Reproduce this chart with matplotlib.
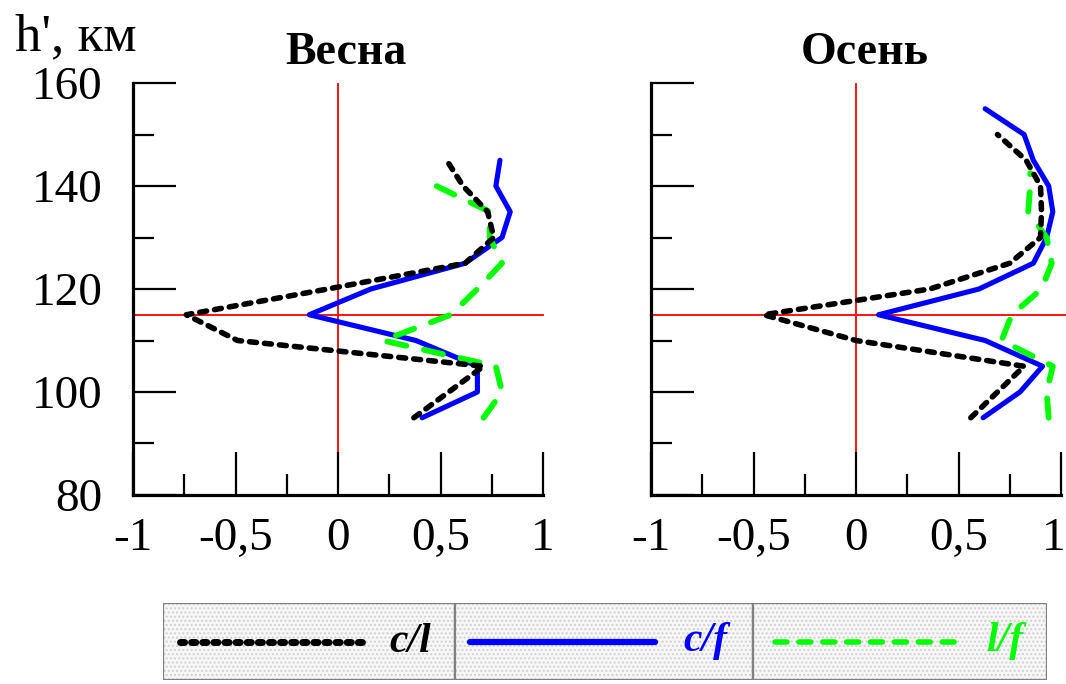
import matplotlib.pyplot as plt
import matplotlib.transforms as mtransforms
import numpy as np
from matplotlib.patches import Rectangle
from matplotlib.lines import Line2D

plt.rcParams['font.family'] = ['Liberation Serif', 'DejaVu Serif']
plt.rcParams['lines.scale_dashes'] = False

# Весна (spring)
h_spring = [95, 100, 105, 110, 115, 120, 125, 130, 135, 140, 145]
cl_spring = [0.37, 0.54, 0.71, -0.49, -0.74, -0.05, 0.62, 0.76, 0.73, 0.61, 0.53]
cf_spring = [0.41, 0.68, 0.68, 0.38, -0.14, 0.16, 0.62, 0.80, 0.84, 0.77, 0.79]
h_spring_lf = [95, 100, 105, 110, 115, 120, 125, 130, 135, 140]
lf_spring = [0.71, 0.80, 0.77, 0.22, 0.55, 0.68, 0.80, 0.74, 0.74, 0.48]

# Осень (autumn)
h_autumn_cl = [95, 100, 105, 110, 115, 120, 125, 130, 135, 140, 145, 150]
cl_autumn = [0.56, 0.69, 0.82, 0.0, -0.45, 0.36, 0.75, 0.90, 0.905, 0.90, 0.83, 0.69]
h_autumn_cf = [95, 100, 105, 110, 115, 120, 125, 130, 135, 140, 145, 150, 155]
cf_autumn = [0.62, 0.80, 0.91, 0.63, 0.11, 0.60, 0.865, 0.93, 0.96, 0.94, 0.865, 0.82, 0.63]
h_autumn_lf = [95, 100, 105, 110, 115, 120, 125, 130, 135, 140, 142.5]
lf_autumn = [0.94, 0.93, 0.96, 0.71, 0.76, 0.905, 0.955, 0.93, 0.84, 0.85, 0.85]

titles = ['Весна', 'Осень']
legend_labels = ['c/l', 'c/f', 'l/f']
colors = ['black', '#0000ff', '#00ff00']

fig = plt.figure(figsize=(10.66, 6.84), dpi=100)
ax1 = fig.add_axes([133/1066, 1 - 495/684, 410/1066, 412/684])
ax2 = fig.add_axes([651/1066, 1 - 495/684, 410/1066, 412/684])

black_dash = (5.0, 5.8)
green_dash = (14.0, 13.0)

panels = [
    (ax1, (h_spring, cl_spring), (h_spring, cf_spring), (h_spring_lf, lf_spring)),
    (ax2, (h_autumn_cl, cl_autumn), (h_autumn_cf, cf_autumn), (h_autumn_lf, lf_autumn)),
]

for i, (ax, cl, cf, lf) in enumerate(panels):
    ax.axvline(0, color='red', lw=1.3, zorder=1)
    ax.axhline(115, color='red', lw=1.3, zorder=1, clip_on=False, xmax=1.0 if i == 0 else 1.02)
    ax.plot(cl[1], cl[0], color='black', lw=4.0, dashes=black_dash, dash_capstyle='round', zorder=3)
    ax.plot(cf[1], cf[0], color='#0000ff', lw=3.7, solid_capstyle='round', zorder=2)
    ax.plot(lf[1], lf[0], color='#00ff00', lw=4.2, dashes=green_dash, dash_capstyle='round', zorder=2)

    ax.set_xlim(-1, 1)
    ax.set_ylim(80, 160)
    ax.set_xticks([-1, -0.5, 0, 0.5, 1])
    ax.set_xticklabels(['-1', '-0,5', '0', '0,5', '1'])
    ax.set_xticks(np.arange(-1, 1.01, 0.25), minor=True)
    ax.set_yticks([80, 100, 120, 140, 160])
    ax.set_yticks(np.arange(80, 161, 10), minor=True)
    for s in ['top', 'right']:
        ax.spines[s].set_visible(False)
    for s in ['left', 'bottom']:
        ax.spines[s].set_linewidth(2.3)
    ax.tick_params(which='major', direction='in', length=31, width=1.6, labelsize=34, pad=22)
    ax.tick_params(which='minor', direction='in', length=15, width=1.6)
    ax.tick_params(axis='x', pad=16)
    if i == 1:
        ax.set_yticklabels([])
    ax.set_title(titles[i], fontsize=33, fontweight='bold', pad=14, x=0.52)

# keep the last "1" of the right panel inside the picture
last = ax2.get_xticklabels()[-1]
last.set_horizontalalignment('right')
last.set_transform(last.get_transform() + mtransforms.ScaledTranslation(4/100, 0, fig.dpi_scale_trans))

fig.text(15/1066, 1 - 50/684, "h', км", fontsize=38)

# legend panel
lax = fig.add_axes([163/1066, 1 - 680/684, 884/1066, 77/684])
lax.set_xlim(163, 1047)
lax.set_ylim(0, 1)
lax.axis('off')
cells = [(163, 455), (455, 753), (753, 1047)]
line_spans = [(180, 368), (470, 655), (775, 960)]
text_x = [410, 705, 1005]
for j, (x0, x1) in enumerate(cells):
    lax.add_patch(Rectangle((x0, 0), x1 - x0, 1, facecolor='#f7f7f7', edgecolor='#d0d0d0',
                            hatch='....', lw=0))
    lax.add_patch(Rectangle((x0, 0), x1 - x0, 1, facecolor='none', edgecolor='#808080', lw=1.6))
    ls = line_spans[j]
    if j == 0:
        lax.add_line(Line2D(ls, [0.5, 0.5], color='black', lw=5.0, dashes=(3.0, 5.0), dash_capstyle='round'))
    elif j == 1:
        lax.add_line(Line2D(ls, [0.5, 0.5], color='#0000ff', lw=4.5, solid_capstyle='round'))
    else:
        lax.add_line(Line2D(ls, [0.5, 0.5], color='#00ff00', lw=4.0, dashes=(8.6, 8.6), dash_capstyle='round'))
    lax.text(text_x[j], 0.5, legend_labels[j], color=colors[j], fontsize=30, fontstyle='italic',
             fontweight='bold', ha='center', va='center')

fig.savefig('out.png', dpi=100)
